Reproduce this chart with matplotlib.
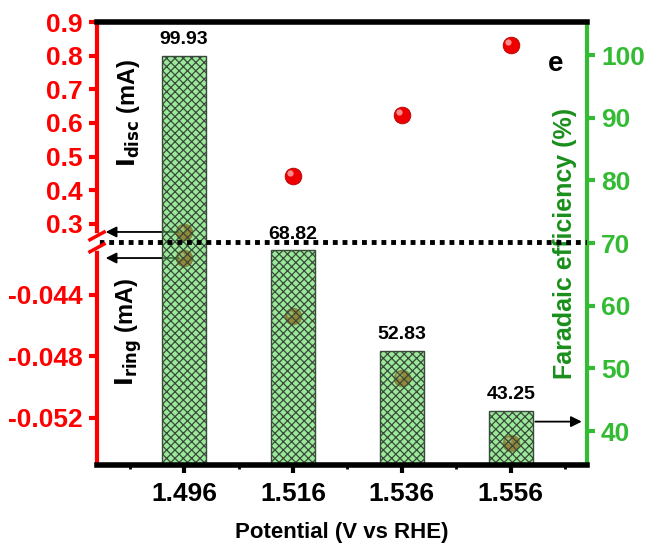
import numpy as np
import matplotlib
matplotlib.use("Agg")
import matplotlib.pyplot as plt
from matplotlib.lines import Line2D
from matplotlib.transforms import offset_copy

plt.rcParams["font.family"] = ["Liberation Sans", "DejaVu Sans"]
plt.rcParams["font.weight"] = "bold"
plt.rcParams["hatch.linewidth"] = 0.9

# Data
potential = [1.496, 1.516, 1.536, 1.556]
fe = [99.93, 68.82, 52.83, 43.25]
i_disc = [0.276, 0.442, 0.624, 0.832]
i_ring = [-0.0416, -0.0454, -0.0494, -0.0536]

red = "#ff0000"
green = "#33bb33"
dgreen = "#1a8f1a"

fig = plt.figure(figsize=(6.45, 5.51), dpi=100)
L, W = 0.1504, 0.7597
BRK = 0.561
ax_top = fig.add_axes([L, BRK, W, 0.960 - BRK])
ax_bot = fig.add_axes([L, 0.156, W, BRK - 0.156])
ax_fe = fig.add_axes([L, 0.156, W, 0.804])
for a in (ax_top, ax_bot):
    a.set_zorder(1)
ax_fe.set_zorder(2)
ax_fe.patch.set_alpha(0)

xlim = (1.480, 1.570)

def spheres(ax, x, y):
    ax.plot(x, y, "o", ms=12, color="#ee0000", mec="#b00000", mew=0.6, clip_on=False)
    hl = offset_copy(ax.transData, fig=fig, x=-2, y=2, units="points")
    ax.plot(x, y, "o", ms=4.5, color="#ffb0b0", mec="none", alpha=0.8,
            transform=hl, clip_on=False)

# Disc current (upper part of broken axis)
spheres(ax_top, potential, i_disc)
ax_top.set_xlim(*xlim)
ax_top.set_ylim(0.2465, 0.9)
ax_top.set_yticks(np.arange(0.3, 0.91, 0.1))
ax_top.set_yticklabels([f"{v:.1f}" for v in np.arange(0.3, 0.91, 0.1)])

# Ring current (lower part of broken axis)
spheres(ax_bot, potential, i_ring)
ax_bot.set_xlim(*xlim)
ax_bot.set_ylim(-0.05506, -0.04055)
ax_bot.set_yticks([-0.052, -0.048, -0.044])
ax_bot.set_yticklabels(["-0.052", "-0.048", "-0.044"])

for a in (ax_top, ax_bot):
    for s in ("top", "bottom", "right"):
        a.spines[s].set_visible(False)
    a.spines["left"].set_color(red)
    a.spines["left"].set_linewidth(3)
    a.set_xticks([])
    a.tick_params(axis="y", colors=red, labelcolor=red, width=3, length=6,
                  labelsize=19, pad=4)

# Faradaic efficiency bars
ax_fe.bar(potential, fe, width=0.008, facecolor=(0.36, 0.86, 0.36, 0.62),
          edgecolor="#3a4a3a", linewidth=1.0, hatch="xxxx", zorder=2)
for x, v in zip(potential, fe):
    ax_fe.text(x, v + 1.2, f"{v:.2f}", ha="center", va="bottom", fontsize=14,
               fontweight="bold")
ax_fe.set_xlim(*xlim)
ax_fe.set_ylim(34.57, 105.27)
ax_fe.yaxis.tick_right()
ax_fe.set_yticks(range(40, 101, 10))
ax_fe.tick_params(axis="y", colors=green, labelcolor=green, width=3, length=6,
                  labelsize=19, pad=4)
ax_fe.set_xticks(potential)
ax_fe.set_xticklabels([f"{p:.3f}" for p in potential])
ax_fe.set_xticks([1.486, 1.506, 1.526, 1.546, 1.566], minor=True)
ax_fe.tick_params(axis="x", which="major", width=3, length=6, labelsize=19, pad=6)
ax_fe.tick_params(axis="x", which="minor", width=2, length=3)
ax_fe.spines["left"].set_visible(False)
ax_fe.spines["right"].set_color(green)
ax_fe.spines["right"].set_linewidth(3)
ax_fe.spines["top"].set_linewidth(4)
ax_fe.spines["bottom"].set_linewidth(4)
ax_fe.set_xlabel("Potential (V vs RHE)", fontsize=16, fontweight="bold", labelpad=12)

# Labels inside the plot
ax_fe.text(0.065, 0.795, r"$\mathbf{I_{disc}}$ (mA)", transform=ax_fe.transAxes,
           rotation=90, ha="center", va="center", fontsize=17, fontweight="bold")
ax_fe.text(0.065, 0.30, r"$\mathbf{I_{ring}}$ (mA)", transform=ax_fe.transAxes,
           rotation=90, ha="center", va="center", fontsize=17, fontweight="bold")
ax_fe.text(0.956, 0.5, "Faradaic efficiency (%)", transform=ax_fe.transAxes,
           rotation=90, ha="center", va="center", fontsize=18, fontweight="bold",
           color=dgreen)
ax_fe.text(0.935, 0.905, "e", transform=ax_fe.transAxes, ha="center", va="center",
           fontsize=20, fontweight="bold")

# Dotted break line across the plot
fe_brk = 34.57 + (BRK - 0.156) / 0.804 * (105.27 - 34.57)
ax_fe.axhline(fe_brk, xmin=0.005, xmax=1, color="k", lw=3.5, ls=(0, (1, 1)),
              zorder=5)

# Break marks on the left spine
gap = 6 / 551
fig.add_artist(Line2D([L, L], [BRK - gap, BRK + gap], color="white", lw=4,
                      transform=fig.transFigure, zorder=10))
for dy in (gap, -gap):
    fig.add_artist(Line2D([L - 0.011, L + 0.011], [BRK + dy - 0.007, BRK + dy + 0.007],
                          color=red, lw=2.5, transform=fig.transFigure, zorder=11))

# Arrows pointing to the axes
arrow = dict(arrowstyle="-|>", color="k", lw=1.3, mutation_scale=16)
ax_top.annotate("", xy=(0.012, i_disc[0]), xytext=(potential[0] - 0.0005, i_disc[0]),
                xycoords=ax_top.get_yaxis_transform(), textcoords="data",
                arrowprops=arrow)
ax_bot.annotate("", xy=(0.012, i_ring[0]), xytext=(potential[0] - 0.0005, i_ring[0]),
                xycoords=ax_bot.get_yaxis_transform(), textcoords="data",
                arrowprops=arrow)
ax_fe.annotate("", xy=(0.995, 41.5), xytext=(potential[3] + 0.004, 41.5),
               xycoords=ax_fe.get_yaxis_transform(), textcoords="data",
               arrowprops=arrow)

fig.savefig("out.png", dpi=100)
